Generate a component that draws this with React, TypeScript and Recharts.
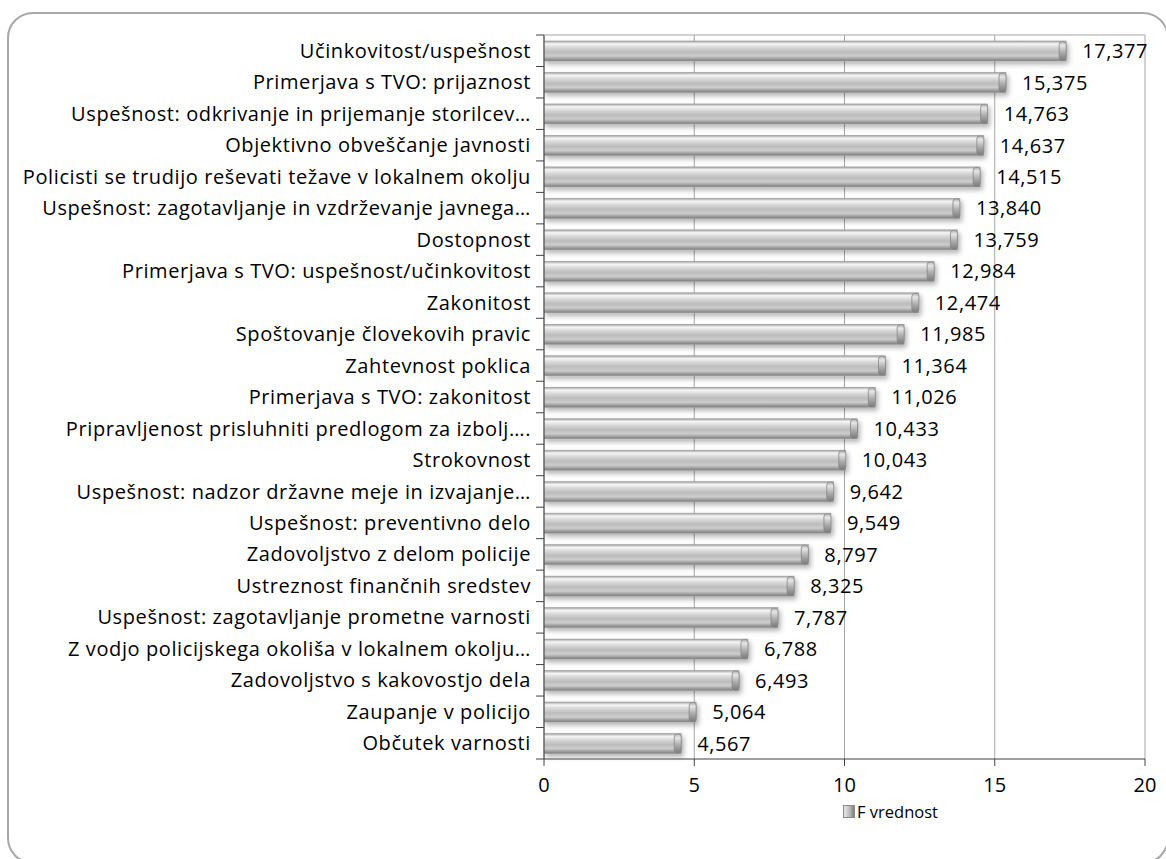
import { BarChart, Bar, XAxis, YAxis, CartesianGrid, LabelList } from 'recharts'

const categories = [
  'Učinkovitost/uspešnost ',
  'Primerjava s TVO: prijaznost ',
  'Uspešnost: odkrivanje in prijemanje storilcev…',
  'Objektivno obveščanje javnosti ',
  'Policisti se trudijo reševati težave v lokalnem okolju',
  'Uspešnost: zagotavljanje in vzdrževanje javnega…',
  'Dostopnost ',
  'Primerjava s TVO: uspešnost/učinkovitost ',
  'Zakonitost ',
  'Spoštovanje človekovih pravic ',
  'Zahtevnost poklica ',
  'Primerjava s TVO: zakonitost ',
  'Pripravljenost prisluhniti predlogom za izbolj….',
  'Strokovnost ',
  'Uspešnost: nadzor državne meje in izvajanje…',
  'Uspešnost: preventivno delo ',
  'Zadovoljstvo z delom policije ',
  'Ustreznost finančnih sredstev ',
  'Uspešnost: zagotavljanje prometne varnosti ',
  'Z vodjo policijskega okoliša v  lokalnem okolju…',
  'Zadovoljstvo s kakovostjo dela ',
  'Zaupanje v policijo ',
  'Občutek varnosti ',
]

const fValues = [
  17.377, 15.375, 14.763, 14.637, 14.515, 13.84, 13.759, 12.984, 12.474, 11.985, 11.364, 11.026,
  10.433, 10.043, 9.642, 9.549, 8.797, 8.325, 7.787, 6.788, 6.493, 5.064, 4.567,
]

const xTicks = [0, 5, 10, 15, 20]

const data = categories.map((name, i) => ({ name, value: fValues[i] }))

const FONT = '"Open Sans", sans-serif'
const FS = 20
const SPACING = 0.6
const TICK_SIZE = 7
const TICK_MARGIN = 2
const CHART_W = 1166
const CHART_H = 859
const MARGIN = { top: 35, right: 21, bottom: 70, left: 0 }
const Y_AXIS_W = 544
const X_AXIS_H = 30
const PLOT_W = CHART_W - MARGIN.left - MARGIN.right - Y_AXIS_W
const PLOT_H = CHART_H - MARGIN.top - MARGIN.bottom - X_AXIS_H

function CylinderBar(props: any) {
  const { x, y, width, height } = props
  if (!width || width <= 0) return null
  const cap = 7
  return (
    <g filter="url(#barShadow)">
      <rect x={x} y={y} width={width} height={height} fill="url(#barGrad)" stroke="#9c9c9c" strokeWidth={0.6} />
      <rect
        x={x + width - cap}
        y={y + 0.5}
        width={cap}
        height={height - 1}
        rx={3}
        fill="url(#capGrad)"
        stroke="#858585"
        strokeWidth={0.8}
      />
    </g>
  )
}

// category label + Excel-style tick marks at the band boundaries (+ top edge of plot area)
function CategoryTick(props: any) {
  const { x, y, payload } = props
  const half = PLOT_H / categories.length / 2
  const axisX = Number(x) + TICK_SIZE + TICK_MARGIN
  const cy = Number(y)
  const first = payload.value === categories[0]
  const last = payload.value === categories[categories.length - 1]
  return (
    <g>
      {first && <path d={`M${axisX},${cy - half}H${axisX + PLOT_W}`} stroke="#a6a6a6" strokeWidth={1.2} fill="none" />}
      <path d={`M${axisX - 8},${cy - half}H${axisX}`} stroke="#404040" strokeWidth={1} fill="none" />
      {last && <path d={`M${axisX - 8},${cy + half}H${axisX}`} stroke="#404040" strokeWidth={1} fill="none" />}
      <text x={Number(x) - 4} y={cy} dy="0.355em" textAnchor="end" fontSize={FS} fontFamily={FONT} letterSpacing={SPACING} fill="#000">
        {payload.value}
      </text>
    </g>
  )
}

export default function App() {
  return (
    <div style={{ position: 'absolute', left: 0, top: 0, width: CHART_W, height: CHART_H, overflow: 'hidden', background: '#fff', fontFamily: FONT }}>
      <div
        style={{
          position: 'absolute',
          left: 7,
          top: 12,
          width: 1162,
          height: 852,
          border: '2px solid #a8a8a8',
          borderRadius: 26,
          boxSizing: 'border-box',
        }}
      />
      <BarChart
        width={CHART_W}
        height={CHART_H}
        data={data}
        layout="vertical"
        margin={MARGIN}
        barSize={20}
        style={{ position: 'absolute', left: 0, top: 0 }}
      >
        <defs>
          <linearGradient id="barGrad" x1="0" y1="0" x2="0" y2="1">
            <stop offset="0%" stopColor="#a0a0a0" />
            <stop offset="14%" stopColor="#f6f6f6" />
            <stop offset="32%" stopColor="#d8d8d8" />
            <stop offset="55%" stopColor="#bcbcbc" />
            <stop offset="75%" stopColor="#cdcdcd" />
            <stop offset="100%" stopColor="#7c7c7c" />
          </linearGradient>
          <linearGradient id="capGrad" x1="0" y1="0" x2="0" y2="1">
            <stop offset="0%" stopColor="#b4b4b4" />
            <stop offset="20%" stopColor="#e6e6e6" />
            <stop offset="55%" stopColor="#b0b0b0" />
            <stop offset="100%" stopColor="#7a7a7a" />
          </linearGradient>
          <filter id="barShadow" x="-5%" y="-40%" width="115%" height="200%">
            <feDropShadow dx={2} dy={3} stdDeviation={2.5} floodColor="#000" floodOpacity={0.3} />
          </filter>
        </defs>
        <CartesianGrid horizontal={false} stroke="#a6a6a6" strokeWidth={1} />
        <XAxis
          type="number"
          domain={[0, 20]}
          ticks={xTicks}
          allowDataOverflow
          stroke="#404040"
          tickSize={7}
          tickMargin={12}
          tick={{ fontSize: FS, fill: '#000', fontFamily: FONT }}
          height={X_AXIS_H}
        />
        <YAxis
          yAxisId="cat"
          type="category"
          dataKey="name"
          width={Y_AXIS_W}
          interval={0}
          tickLine={false}
          tickSize={TICK_SIZE}
          tickMargin={TICK_MARGIN}
          stroke="#404040"
          tick={CategoryTick}
        />
        <Bar yAxisId="cat" dataKey="value" shape={CylinderBar} isAnimationActive={false}>
          <LabelList
            dataKey="value"
            position="right"
            offset={16}
            fill="#000"
            fontSize={FS}
            fontFamily={FONT}
            letterSpacing={SPACING}
            formatter={(v: any) => Number(v).toFixed(3).replace('.', ',')}
          />
        </Bar>
      </BarChart>
      <div
        style={{
          position: 'absolute',
          left: 843,
          top: 800,
          display: 'flex',
          alignItems: 'center',
          fontSize: 16.5,
          color: '#000',
        }}
      >
        <span
          style={{
            display: 'inline-block',
            width: 10,
            height: 11,
            marginRight: 2,
            border: '1px solid #8a8a8a',
            background: 'linear-gradient(to right, #e8e8e8, #b8b8b8 60%, #7e7e7e)',
          }}
        />
        F vrednost
      </div>
    </div>
  )
}
